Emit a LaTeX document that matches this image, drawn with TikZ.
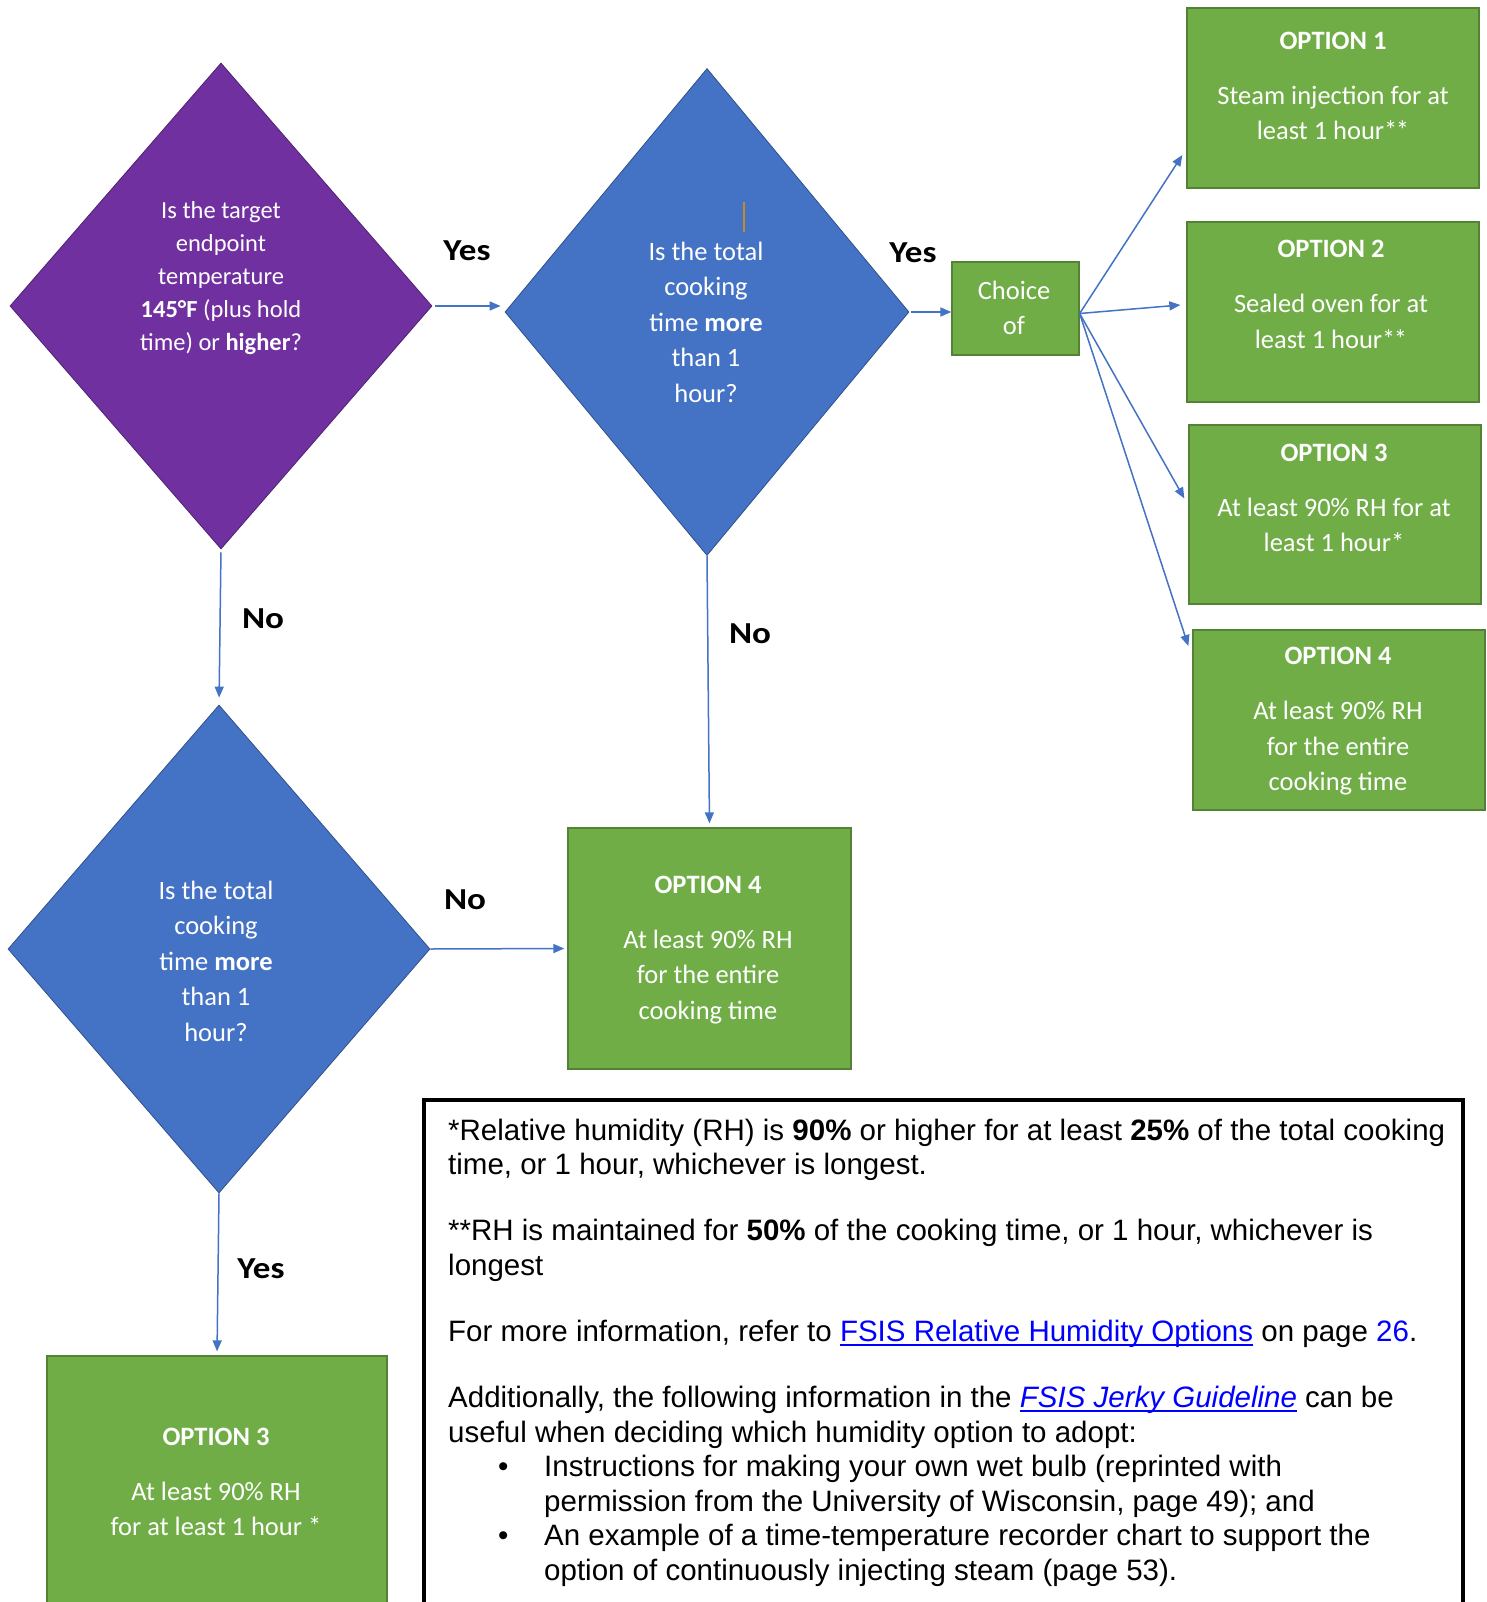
\documentclass[tikz,border=0pt]{standalone}
\usepackage{fontspec}
\setmainfont{Liberation Sans}
\newfontfamily\calfont{Carlito}
\newfontfamily\labfont[FakeStretch=1.15]{Carlito}
\usetikzlibrary{shapes.geometric,arrows.meta,calc}
\definecolor{purp}{HTML}{7030A0}
\definecolor{dblue}{HTML}{4472C4}
\definecolor{gfill}{HTML}{70AD47}
\definecolor{gline}{HTML}{548235}
\definecolor{ablue}{HTML}{4472C4}
\definecolor{lnk}{HTML}{0000FF}
\definecolor{cursor}{HTML}{C58A2A}
\newcommand\myul[1]{\setbox0\hbox{#1}\rlap{\rule[-4pt]{\wd0}{1.6pt}}\box0}
\newcommand\dstar{*\kern-1.5pt*}
\begin{document}
\begin{tikzpicture}[x=1pt,y=-1pt,
  dia/.style={shape=diamond, draw=#1!70!black, fill=#1, line width=0.8pt, inner sep=0pt},
  gbox/.style={draw=gline, fill=gfill, line width=1.3pt, inner sep=0pt},
  wtxt/.style={font=\calfont\fontsize{26.5}{35.5}\selectfont, text=white, align=center, inner sep=0pt},
  lab/.style={font=\labfont\bfseries\fontsize{30.5}{30.5}\selectfont, text=black, inner sep=0pt},
  arr/.style={draw=ablue, line width=1.5pt, -{Triangle[length=11pt,width=9pt]}},
  fnt/.style={font=\fontsize{29.5}{34.5}\selectfont, text=black, align=left, inner sep=0pt}
]
\clip (0,0) rectangle (1486,1602);
\fill[white] (0,0) rectangle (1486,1602);

% decision diamonds
\node[dia=purp, minimum width=422pt, minimum height=486pt] (d1) at (221,306) {};
\node[dia=dblue, minimum width=404pt, minimum height=487pt] (d2) at (707,312) {};
\node[dia=dblue, minimum width=422pt, minimum height=488pt] (d3) at (219,949) {};

\node[wtxt, font=\calfont\fontsize{24.5}{33}\selectfont] (t1) at (221,278)
  {Is the target\\ endpoint\\ temperature\\ \textbf{145°F} (plus hold\\ time) or \textbf{higher}?};
\node[wtxt] (t2) at (706,322) {Is the total\\ cooking\\ time \textbf{more}\\ than 1\\ hour?};
\node[wtxt] (t3) at (216,961) {Is the total\\ cooking\\ time \textbf{more}\\ than 1\\ hour?};

% cursor mark
\draw[cursor, line width=1.3pt] (744,202) -- (744,232);

% choice box
\node[gbox, minimum width=127pt, minimum height=93pt] (ch) at (1015.5,308.5) {};
\node[wtxt] (cht) at (1014,308) {Choice\\ of};

% option boxes
\node[gbox, minimum width=292pt, minimum height=180pt] (o1) at (1333,98) {};
\node[gbox, minimum width=292pt, minimum height=180pt] (o2) at (1333,312) {};
\node[gbox, minimum width=292pt, minimum height=179pt] (o3) at (1335,514.5) {};
\node[gbox, minimum width=292pt, minimum height=180pt] (o4) at (1339,720) {};
\node[gbox, minimum width=283pt, minimum height=241pt] (o4m) at (709.5,948.5) {};
\node[gbox, minimum width=340pt, minimum height=264pt] (o3b) at (217,1488) {};

\node[wtxt] (o1t) at (1333,86) {\textbf{OPTION 1}\\[19.5pt] Steam injection for at\\ least 1 hour\dstar};
\node[wtxt] (o2t) at (1331,294.5) {\textbf{OPTION 2}\\[19.5pt] Sealed oven for at\\ least 1 hour\dstar};
\node[wtxt] (o3t) at (1334,498) {\textbf{OPTION 3}\\[19.5pt] At least 90\% RH for at\\ least 1 hour*};
\node[wtxt] (o4t) at (1338,721.5) {\textbf{OPTION 4}\\[19.5pt] At least 90\% RH\\ for the entire\\ cooking time};
\node[wtxt] (o4mt) at (708,950) {\textbf{OPTION 4}\\[19.5pt] At least 90\% RH\\ for the entire\\ cooking time};
\node[wtxt] (o3bt) at (216,1482) {\textbf{OPTION 3}\\[19.5pt] At least 90\% RH\\ for at least 1 hour *};

% connectors
\draw[arr, shorten <=3pt, shorten >=4pt] (d1.east) -- (d1.east -| d2.west);
\draw[arr, shorten <=2pt] (d2.east) -- (d2.east -| ch.west);
\draw[arr, shorten <=3pt, shorten >=7pt] (d1.south) -- (d3.north);
\draw[arr, shorten >=4pt] (d2.south) -- (o4m.north);
\draw[arr, shorten >=3pt] (d3.east) -- (o4m.west);
\draw[arr, shorten >=4pt] (d3.south) -- (o3b.north);
\coordinate (chout) at ([yshift=-5pt]ch.east);
\draw[arr] (chout) -- ([xshift=-4pt,yshift=-57pt]o1.west);
\draw[arr] (chout) -- ([xshift=-6pt,yshift=7pt]o2.west);
\draw[arr] (chout) -- ([xshift=-4pt,yshift=16pt]o3.west);
\draw[arr] (chout) -- ([xshift=-4pt,yshift=74pt]o4.west);

% labels
\node[lab] (l1) at (467,251) {Yes};
\node[lab] (l2) at (913,253) {Yes};
\node[lab] (l3) at (263,619) {No};
\node[lab] (l4) at (750,634) {No};
\node[lab] (l5) at (465,900) {No};
\node[lab] (l6) at (261,1269) {Yes};

% footnote box
\node[draw=black, line width=4pt, fill=white, minimum width=1039pt, minimum height=520pt, inner sep=0pt] (fnbox) at (943.5,1360) {};
\node[fnt, anchor=north west] (fntext) at (448,1118.5) {*Relative humidity (RH) is \textbf{90\%} or higher for at least \textbf{25\%} of the total cooking\\
time, or 1 hour, whichever is longest.\\[31.5pt]
**RH is maintained for \textbf{50\%} of the cooking time, or 1 hour, whichever is\\
longest\\[32pt]
For more information, refer to \textcolor{lnk}{\myul{FSIS Relative Humidity Options}} on page \textcolor{lnk}{26}.\\[31.5pt]
Additionally, the following information in the \textcolor{lnk}{\myul{\textit{FSIS Jerky Guideline}}} can be\\
useful when deciding which humidity option to adopt:\\
\makebox[96pt][l]{\hspace*{50pt}•}Instructions for making your own wet bulb (reprinted with\\
\hspace*{96pt}permission from the University of Wisconsin, page 49); and\\
\makebox[96pt][l]{\hspace*{50pt}•}An example of a time-temperature recorder chart to support the\\
\hspace*{96pt}option of continuously injecting steam (page 53).};
\end{tikzpicture}
\end{document}
